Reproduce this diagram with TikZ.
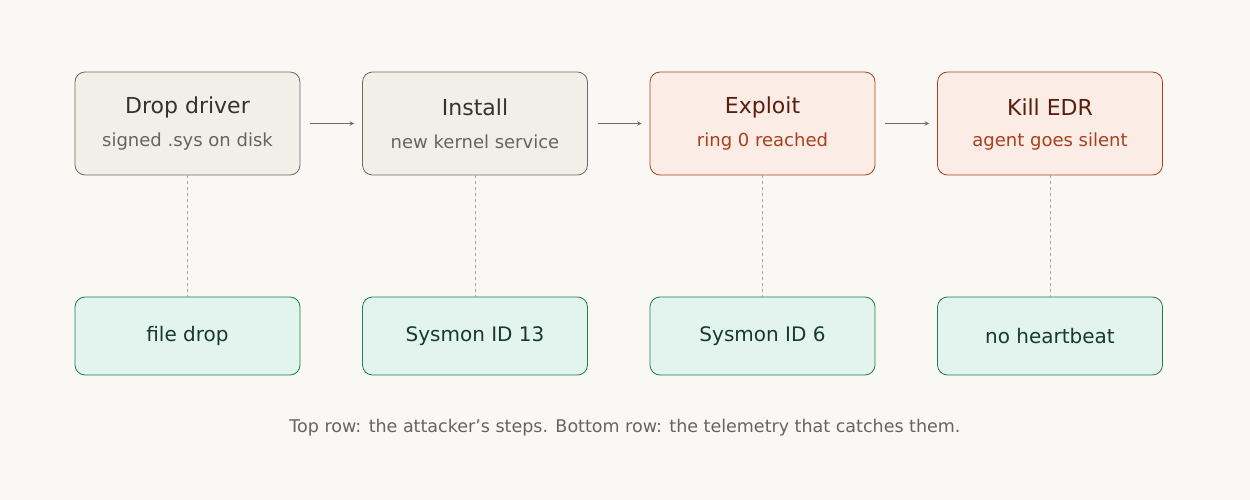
\documentclass[tikz,border=0pt]{standalone}
\usepackage{fontspec}
\setmainfont{DejaVu Sans}
\definecolor{bg}{HTML}{FAF8F4}
\definecolor{gfill}{HTML}{F2EFE9}
\definecolor{gdraw}{HTML}{6E6A64}
\definecolor{rfill}{HTML}{FBECE6}
\definecolor{rdraw}{HTML}{A8401F}
\definecolor{rtext}{HTML}{5A1E0E}
\definecolor{tfill}{HTML}{E3F4EE}
\definecolor{tdraw}{HTML}{1E7A5A}
\definecolor{ttext}{HTML}{173A2E}
\definecolor{sub}{HTML}{666360}
\begin{document}
\begin{tikzpicture}[x=1pt,y=-1pt,
  stepbox/.style={draw=gdraw,fill=gfill,rounded corners=10pt,minimum width=225pt,minimum height=103pt,line width=0.8pt},
  badbox/.style={stepbox,draw=rdraw,fill=rfill},
  telebox/.style={draw=tdraw,fill=tfill,rounded corners=10pt,minimum width=225pt,minimum height=78pt,line width=0.8pt,text=ttext,font=\fontsize{20}{24}\selectfont},
  ttltext/.style={font=\fontsize{22}{26}\selectfont,text=black!80},
  subtext/.style={font=\fontsize{18}{22}\selectfont,text=sub},
  steparrow/.style={->,>=stealth,draw=gdraw,line width=1pt},
  vlink/.style={draw=black!35,dashed,line width=0.8pt}]
\fill[bg] (0,0) rectangle (1250,500);
\useasboundingbox (0,0) rectangle (1250,500);
\node[stepbox] (b1) at (187.5,123.5) {};
\node[stepbox] (b2) at (475,123.5) {};
\node[badbox] (b3) at (762.5,123.5) {};
\node[badbox] (b4) at (1050,123.5) {};
\node[ttltext] (t1) at (187.5,107) {Drop driver};
\node[subtext] (s1) at (187.5,142) {signed .sys on disk};
\node[ttltext] (t2) at (475,107) {Install};
\node[subtext] (s2) at (475,142) {new kernel service};
\node[ttltext,text=rtext] (t3) at (762.5,107) {Exploit};
\node[subtext,text=rdraw] (s3) at (762.5,142) {ring 0 reached};
\node[ttltext,text=rtext] (t4) at (1050,107) {Kill EDR};
\node[subtext,text=rdraw] (s4) at (1050,142) {agent goes silent};
\node[telebox] (d1) at (187.5,336) {file drop};
\node[telebox] (d2) at (475,336) {Sysmon ID 13};
\node[telebox] (d3) at (762.5,336) {Sysmon ID 6};
\node[telebox] (d4) at (1050,336) {no heartbeat};
\foreach \i in {1,2,3,4}{\draw[vlink] (b\i.south) -- (d\i.north);}
\draw[steparrow] ([xshift=10pt]b1.east) -- ([xshift=-8pt]b2.west);
\draw[steparrow] ([xshift=10pt]b2.east) -- ([xshift=-8pt]b3.west);
\draw[steparrow] ([xshift=10pt]b3.east) -- ([xshift=-8pt]b4.west);
\node[subtext,font=\fontsize{17.5}{22}\selectfont] (cap) at (625,428) {Top row: the attacker's steps. Bottom row: the telemetry that catches them.};
\end{tikzpicture}
\end{document}
